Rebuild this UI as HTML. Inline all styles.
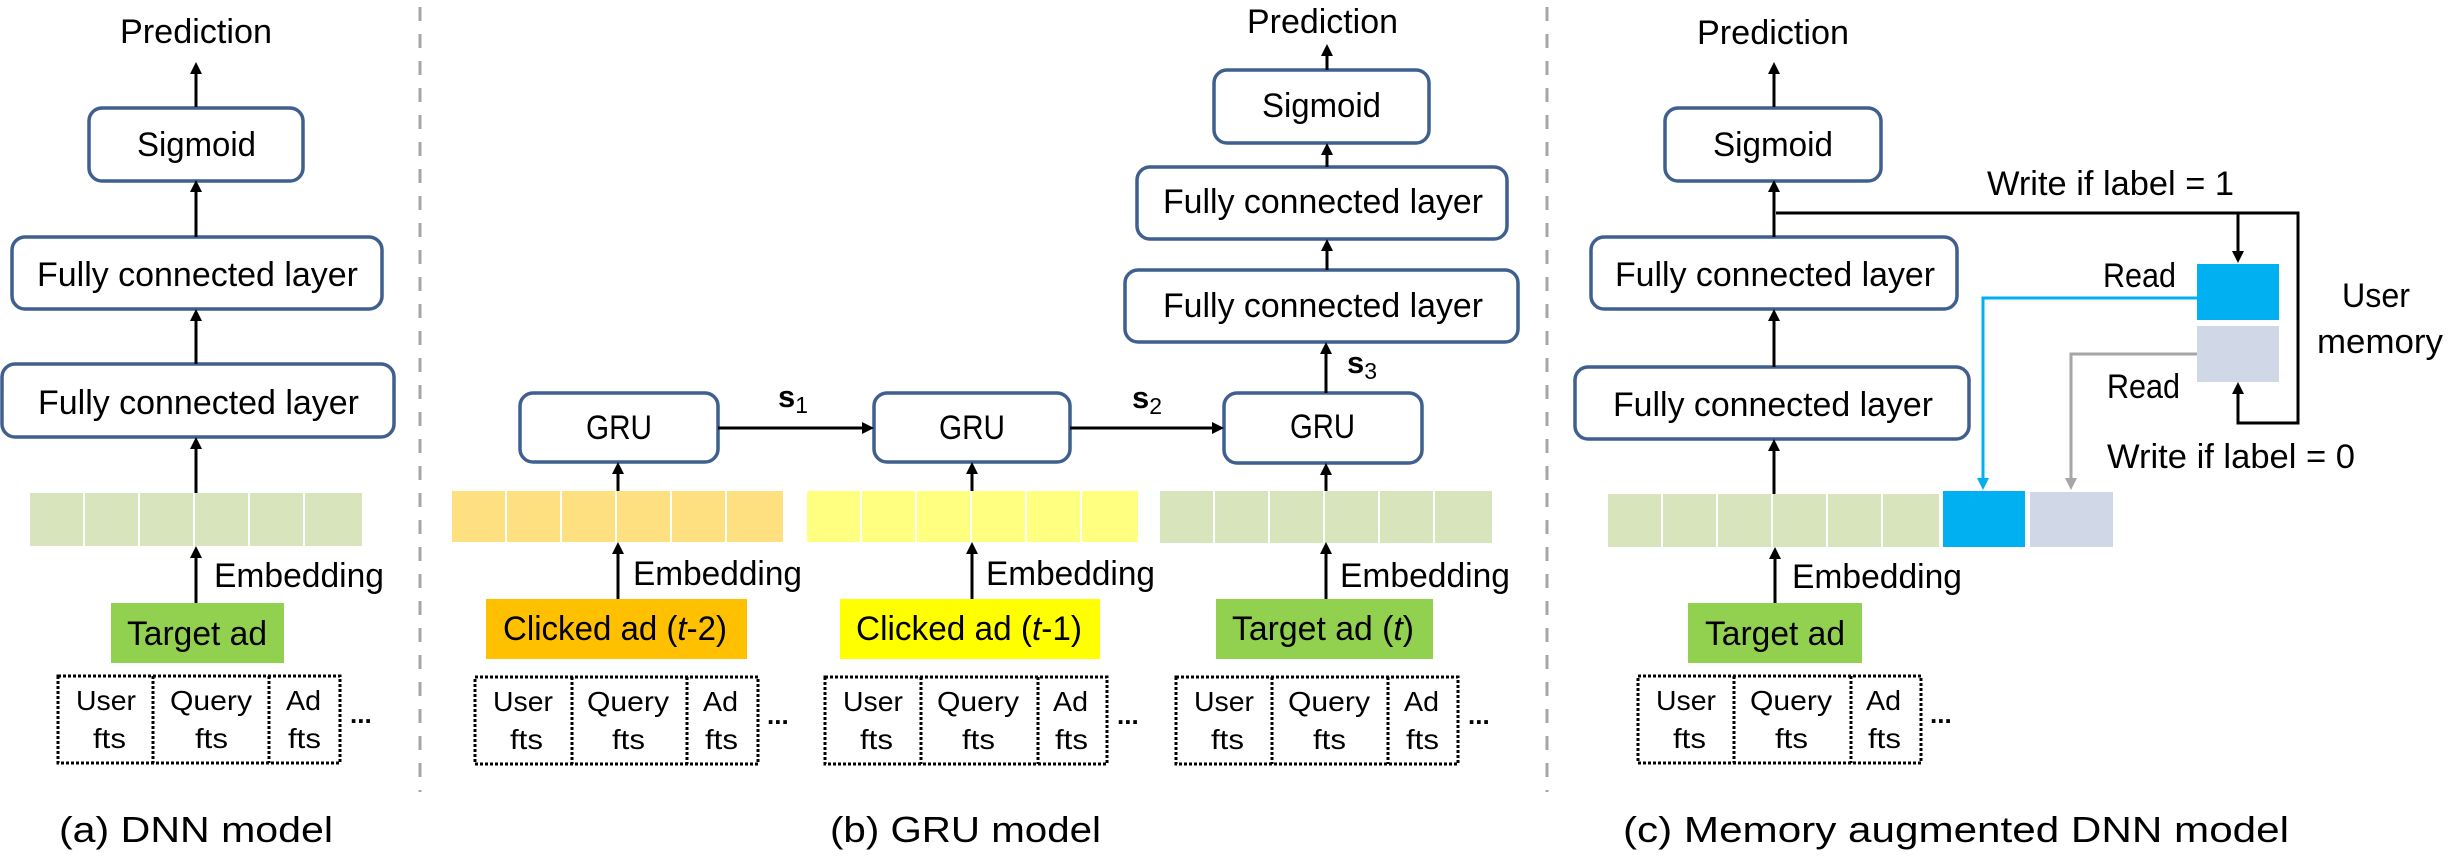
<!DOCTYPE html>
<html><head><meta charset="utf-8"><style>
html,body{margin:0;padding:0;background:#fff;}
svg{display:block;}
text{font-family:"Liberation Sans",sans-serif;fill:#000;}
</style></head><body>
<svg width="2452" height="860" viewBox="0 0 2452 860" xmlns="http://www.w3.org/2000/svg">
<!-- separators -->
<line x1="420" y1="7" x2="420" y2="792" stroke="#A6A6A6" stroke-width="3" stroke-dasharray="14,13"/>
<line x1="1547" y1="7" x2="1547" y2="792" stroke="#A6A6A6" stroke-width="3" stroke-dasharray="14,13"/>

<g fill="#fff" stroke="#3F5F8F" stroke-width="3.5">
<rect x="89" y="108" width="214" height="73" rx="13"/>
<rect x="12" y="237" width="370" height="72" rx="13"/>
<rect x="2" y="364" width="392" height="73" rx="13"/>
<rect x="1214" y="70" width="215" height="73" rx="13"/>
<rect x="1137" y="167" width="370" height="72" rx="13"/>
<rect x="1125" y="270" width="393" height="72" rx="13"/>
<rect x="520" y="393" width="198" height="69" rx="13"/>
<rect x="874" y="393" width="196" height="69" rx="13"/>
<rect x="1224" y="393" width="198" height="70" rx="13"/>
<rect x="1665" y="108" width="216" height="73" rx="13"/>
<rect x="1591" y="237" width="366" height="72" rx="13"/>
<rect x="1575" y="367" width="394" height="72" rx="13"/>
</g>

<g>
<g fill="#D8E4BC">
<rect x="30" y="493" width="53" height="53"/><rect x="85" y="493" width="53" height="53"/><rect x="140" y="493" width="53" height="53"/><rect x="195" y="493" width="53" height="53"/><rect x="250" y="493" width="53" height="53"/><rect x="305" y="493" width="57" height="53"/>
<rect x="1160" y="491" width="53" height="52"/><rect x="1215" y="491" width="53" height="52"/><rect x="1270" y="491" width="53" height="52"/><rect x="1325" y="491" width="53" height="52"/><rect x="1380" y="491" width="53" height="52"/><rect x="1435" y="491" width="57" height="52"/>
<rect x="1608" y="494" width="53" height="53"/><rect x="1663" y="494" width="53" height="53"/><rect x="1718" y="494" width="53" height="53"/><rect x="1773" y="494" width="53" height="53"/><rect x="1828" y="494" width="53" height="53"/><rect x="1883" y="494" width="56" height="53"/>
</g>
<g fill="#FFE081">
<rect x="452" y="491" width="53" height="51"/><rect x="507" y="491" width="53" height="51"/><rect x="562" y="491" width="53" height="51"/><rect x="617" y="491" width="53" height="51"/><rect x="672" y="491" width="53" height="51"/><rect x="727" y="491" width="56" height="51"/>
</g>
<g fill="#FFFF80">
<rect x="807" y="491" width="53" height="51"/><rect x="862" y="491" width="53" height="51"/><rect x="917" y="491" width="53" height="51"/><rect x="972" y="491" width="53" height="51"/><rect x="1027" y="491" width="53" height="51"/><rect x="1082" y="491" width="56" height="51"/>
</g>
<rect x="1943" y="491" width="82" height="56" fill="#00B0F0"/>
<rect x="2030" y="492" width="83" height="55" fill="#D0D8E7"/>
<rect x="2197" y="264" width="82" height="56" fill="#00B0F0"/>
<rect x="2197" y="326" width="82" height="56" fill="#D0D8E7"/>
</g>

<rect x="111" y="603" width="173" height="60" fill="#92D050"/>
<rect x="486" y="599" width="261" height="60" fill="#FFC000"/>
<rect x="840" y="599" width="260" height="60" fill="#FFFF00"/>
<rect x="1216" y="599" width="217" height="60" fill="#92D050"/>
<rect x="1688" y="603" width="174" height="60" fill="#92D050"/>

<g fill="none" stroke="#000" stroke-width="3" stroke-dasharray="3,2">
<rect x="58" y="676" width="282" height="87"/><line x1="153" y1="676" x2="153" y2="763"/><line x1="269" y1="676" x2="269" y2="763"/>
<rect x="475" y="677" width="283" height="87"/><line x1="572" y1="677" x2="572" y2="764"/><line x1="687" y1="677" x2="687" y2="764"/>
<rect x="825" y="677" width="282" height="87"/><line x1="921" y1="677" x2="921" y2="764"/><line x1="1038" y1="677" x2="1038" y2="764"/>
<rect x="1176" y="677" width="282" height="87"/><line x1="1272" y1="677" x2="1272" y2="764"/><line x1="1388" y1="677" x2="1388" y2="764"/>
<rect x="1638" y="676" width="283" height="87"/><line x1="1734" y1="676" x2="1734" y2="763"/><line x1="1851" y1="676" x2="1851" y2="763"/>
</g>

<g stroke="#000" stroke-width="3" fill="none">
<line x1="196" y1="107" x2="196" y2="72"/>
<line x1="196" y1="237" x2="196" y2="190"/>
<line x1="196" y1="364" x2="196" y2="319"/>
<line x1="196" y1="493" x2="196" y2="447"/>
<line x1="196" y1="603" x2="196" y2="556"/>
<line x1="1327" y1="70" x2="1327" y2="53"/>
<line x1="1327" y1="167" x2="1327" y2="152"/>
<line x1="1327" y1="270" x2="1327" y2="249"/>
<line x1="1326" y1="393" x2="1326" y2="352"/>
<line x1="1326" y1="491" x2="1326" y2="472"/>
<line x1="1326" y1="599" x2="1326" y2="552"/>
<line x1="618" y1="491" x2="618" y2="472"/>
<line x1="618" y1="599" x2="618" y2="552"/>
<line x1="972" y1="491" x2="972" y2="472"/>
<line x1="972" y1="599" x2="972" y2="552"/>
<line x1="718" y1="428" x2="864" y2="428"/>
<line x1="1070" y1="428" x2="1214" y2="428"/>
<line x1="1774" y1="107" x2="1774" y2="72"/>
<line x1="1774" y1="237" x2="1774" y2="190"/>
<line x1="1774" y1="367" x2="1774" y2="319"/>
<line x1="1774" y1="494" x2="1774" y2="449"/>
<line x1="1775" y1="603" x2="1775" y2="557"/>
<polyline points="1776,213 2298,213 2298,423 2238,423 2238,392"/>
<line x1="2238" y1="213" x2="2238" y2="252"/>
</g>
<g fill="#000">
<polygon points="190,74 202,74 196,62"/>
<polygon points="190,192 202,192 196,180"/>
<polygon points="190,321 202,321 196,309"/>
<polygon points="190,449 202,449 196,437"/>
<polygon points="190,558 202,558 196,546"/>
<polygon points="1321,56 1333,56 1327,44"/>
<polygon points="1321,155 1333,155 1327,143"/>
<polygon points="1321,251 1333,251 1327,239"/>
<polygon points="1320,354 1332,354 1326,342"/>
<polygon points="1320,475 1332,475 1326,463"/>
<polygon points="1320,554 1332,554 1326,542"/>
<polygon points="612,474 624,474 618,462"/>
<polygon points="612,554 624,554 618,542"/>
<polygon points="966,474 978,474 972,462"/>
<polygon points="966,554 978,554 972,542"/>
<polygon points="862,422 862,434 874,428"/>
<polygon points="1212,422 1212,434 1224,428"/>
<polygon points="1768,74 1780,74 1774,62"/>
<polygon points="1768,192 1780,192 1774,180"/>
<polygon points="1768,321 1780,321 1774,309"/>
<polygon points="1768,451 1780,451 1774,439"/>
<polygon points="1769,559 1781,559 1775,547"/>
<polygon points="2232,394 2244,394 2238,382"/>
<polygon points="2232,251 2244,251 2238,263"/>
</g>
<polyline points="2197,298 1983,298 1983,480" fill="none" stroke="#00B0F0" stroke-width="3"/>
<polygon points="1977,478 1989,478 1983,490" fill="#00B0F0"/>
<polyline points="2197,354 2071,354 2071,480" fill="none" stroke="#A6A6A6" stroke-width="3"/>
<polygon points="2065,478 2077,478 2071,490" fill="#A6A6A6"/>

<g font-size="34">
<text x="120" y="43" textLength="152" lengthAdjust="spacingAndGlyphs">Prediction</text>
<text x="137" y="156" textLength="119" lengthAdjust="spacingAndGlyphs">Sigmoid</text>
<text x="37" y="286" textLength="321" lengthAdjust="spacingAndGlyphs">Fully connected layer</text>
<text x="38" y="414" textLength="321" lengthAdjust="spacingAndGlyphs">Fully connected layer</text>
<text x="214" y="587" textLength="170" lengthAdjust="spacingAndGlyphs">Embedding</text>
<text x="127" y="645" textLength="140" lengthAdjust="spacingAndGlyphs">Target ad</text>

<text x="1247" y="33" textLength="151" lengthAdjust="spacingAndGlyphs">Prediction</text>
<text x="1262" y="117" textLength="119" lengthAdjust="spacingAndGlyphs">Sigmoid</text>
<text x="1163" y="213" textLength="320" lengthAdjust="spacingAndGlyphs">Fully connected layer</text>
<text x="1163" y="317" textLength="320" lengthAdjust="spacingAndGlyphs">Fully connected layer</text>
<text x="586" y="439" textLength="66" lengthAdjust="spacingAndGlyphs">GRU</text>
<text x="939" y="439" textLength="66" lengthAdjust="spacingAndGlyphs">GRU</text>
<text x="1290" y="438" textLength="65" lengthAdjust="spacingAndGlyphs">GRU</text>
<text x="633" y="585" textLength="169" lengthAdjust="spacingAndGlyphs">Embedding</text>
<text x="986" y="585" textLength="169" lengthAdjust="spacingAndGlyphs">Embedding</text>
<text x="1340" y="587" textLength="170" lengthAdjust="spacingAndGlyphs">Embedding</text>
<text x="503" y="640" textLength="224" lengthAdjust="spacingAndGlyphs">Clicked ad (<tspan font-style="italic">t</tspan>-2)</text>
<text x="856" y="640" textLength="226" lengthAdjust="spacingAndGlyphs">Clicked ad (<tspan font-style="italic">t</tspan>-1)</text>
<text x="1232" y="640" textLength="182" lengthAdjust="spacingAndGlyphs">Target ad (<tspan font-style="italic">t</tspan>)</text>

<text x="1697" y="44" textLength="152" lengthAdjust="spacingAndGlyphs">Prediction</text>
<text x="1713" y="156" textLength="120" lengthAdjust="spacingAndGlyphs">Sigmoid</text>
<text x="1615" y="286" textLength="320" lengthAdjust="spacingAndGlyphs">Fully connected layer</text>
<text x="1613" y="416" textLength="320" lengthAdjust="spacingAndGlyphs">Fully connected layer</text>
<text x="1792" y="588" textLength="170" lengthAdjust="spacingAndGlyphs">Embedding</text>
<text x="1705" y="645" textLength="140" lengthAdjust="spacingAndGlyphs">Target ad</text>
<text x="1987" y="195" textLength="247" lengthAdjust="spacingAndGlyphs">Write if label = 1</text>
<text x="2103" y="287" textLength="73" lengthAdjust="spacingAndGlyphs">Read</text>
<text x="2107" y="398" textLength="73" lengthAdjust="spacingAndGlyphs">Read</text>
<text x="2107" y="468" textLength="248" lengthAdjust="spacingAndGlyphs">Write if label = 0</text>
<text x="2342" y="307" textLength="68" lengthAdjust="spacingAndGlyphs">User</text>
<text x="2317" y="353" textLength="126" lengthAdjust="spacingAndGlyphs">memory</text>
</g>

<g>
<text x="778" y="407" font-size="31" font-weight="bold">s<tspan font-size="23" font-weight="normal" dy="6">1</tspan></text>
<text x="1132" y="408" font-size="31" font-weight="bold">s<tspan font-size="23" font-weight="normal" dy="6">2</tspan></text>
<text x="1347" y="373" font-size="31" font-weight="bold">s<tspan font-size="23" font-weight="normal" dy="6">3</tspan></text>
</g>

<g font-size="28">
<text x="76" y="710" textLength="60" lengthAdjust="spacingAndGlyphs">User</text><text x="93" y="748" textLength="33" lengthAdjust="spacingAndGlyphs">fts</text>
<text x="170" y="710" textLength="82" lengthAdjust="spacingAndGlyphs">Query</text><text x="195" y="748" textLength="33" lengthAdjust="spacingAndGlyphs">fts</text>
<text x="286" y="710" textLength="35" lengthAdjust="spacingAndGlyphs">Ad</text><text x="288" y="748" textLength="33" lengthAdjust="spacingAndGlyphs">fts</text>
<text x="350" y="723" font-weight="bold" font-size="26">...</text>

<text x="493" y="711" textLength="60" lengthAdjust="spacingAndGlyphs">User</text><text x="510" y="749" textLength="33" lengthAdjust="spacingAndGlyphs">fts</text>
<text x="587" y="711" textLength="82" lengthAdjust="spacingAndGlyphs">Query</text><text x="612" y="749" textLength="33" lengthAdjust="spacingAndGlyphs">fts</text>
<text x="703" y="711" textLength="35" lengthAdjust="spacingAndGlyphs">Ad</text><text x="705" y="749" textLength="33" lengthAdjust="spacingAndGlyphs">fts</text>
<text x="767" y="724" font-weight="bold" font-size="26">...</text>

<text x="843" y="711" textLength="60" lengthAdjust="spacingAndGlyphs">User</text><text x="860" y="749" textLength="33" lengthAdjust="spacingAndGlyphs">fts</text>
<text x="937" y="711" textLength="82" lengthAdjust="spacingAndGlyphs">Query</text><text x="962" y="749" textLength="33" lengthAdjust="spacingAndGlyphs">fts</text>
<text x="1053" y="711" textLength="35" lengthAdjust="spacingAndGlyphs">Ad</text><text x="1055" y="749" textLength="33" lengthAdjust="spacingAndGlyphs">fts</text>
<text x="1117" y="724" font-weight="bold" font-size="26">...</text>

<text x="1194" y="711" textLength="60" lengthAdjust="spacingAndGlyphs">User</text><text x="1211" y="749" textLength="33" lengthAdjust="spacingAndGlyphs">fts</text>
<text x="1288" y="711" textLength="82" lengthAdjust="spacingAndGlyphs">Query</text><text x="1313" y="749" textLength="33" lengthAdjust="spacingAndGlyphs">fts</text>
<text x="1404" y="711" textLength="35" lengthAdjust="spacingAndGlyphs">Ad</text><text x="1406" y="749" textLength="33" lengthAdjust="spacingAndGlyphs">fts</text>
<text x="1468" y="724" font-weight="bold" font-size="26">...</text>

<text x="1656" y="710" textLength="60" lengthAdjust="spacingAndGlyphs">User</text><text x="1673" y="748" textLength="33" lengthAdjust="spacingAndGlyphs">fts</text>
<text x="1750" y="710" textLength="82" lengthAdjust="spacingAndGlyphs">Query</text><text x="1775" y="748" textLength="33" lengthAdjust="spacingAndGlyphs">fts</text>
<text x="1866" y="710" textLength="35" lengthAdjust="spacingAndGlyphs">Ad</text><text x="1868" y="748" textLength="33" lengthAdjust="spacingAndGlyphs">fts</text>
<text x="1930" y="723" font-weight="bold" font-size="26">...</text>
</g>

<g font-size="36">
<text x="59" y="842" textLength="274" lengthAdjust="spacingAndGlyphs">(a) DNN model</text>
<text x="830" y="842" textLength="271" lengthAdjust="spacingAndGlyphs">(b) GRU model</text>
<text x="1623" y="842" textLength="666" lengthAdjust="spacingAndGlyphs">(c) Memory augmented DNN model</text>
</g>
</svg>
</body></html>
